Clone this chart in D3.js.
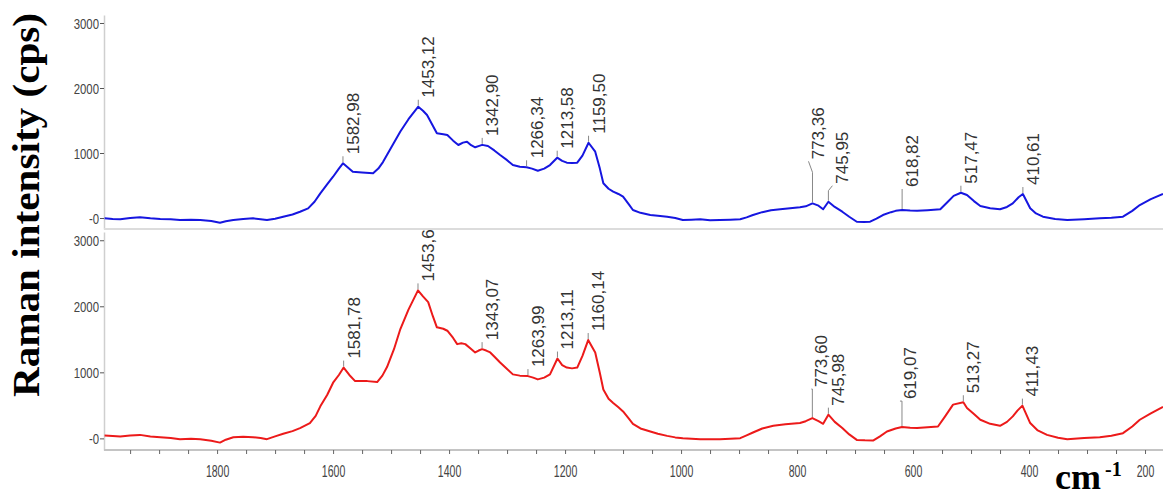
<!DOCTYPE html>
<html>
<head>
<meta charset="utf-8">
<script src="https://cdn.jsdelivr.net/npm/d3@7"></script>
<style>
  html, body { margin: 0; padding: 0; background: #ffffff; }
  svg { display: block; }
</style>
</head>
<body>
<svg id="chart" width="1163" height="497"></svg>
<script>
// Raman spectra of two samples: wavenumber (cm-1) against intensity (cps)
const blueWavenumbers = [
  1994, 1980, 1967, 1950, 1933, 1915, 1898, 1880, 1864, 1845, 1829, 1810, 1795, 1785, 1772, 1755,
  1738, 1725, 1714, 1700, 1686, 1670, 1657, 1643, 1632, 1622, 1610, 1600, 1590, 1582.98, 1575, 1566,
  1550, 1531, 1522, 1514, 1500, 1484, 1470, 1453.12, 1445, 1438, 1428, 1421, 1410, 1403, 1393, 1384,
  1376, 1369, 1362, 1355, 1348, 1342.90, 1333, 1322, 1312, 1300, 1290, 1278, 1266.34, 1257, 1247, 1236,
  1226, 1213.58, 1205, 1197, 1188, 1179, 1170, 1159.50, 1148, 1140, 1134, 1125, 1117, 1108, 1100, 1090,
  1083, 1070, 1053, 1040, 1024, 1010, 997, 982, 967, 950, 933, 915, 898, 887, 876, 860,
  845, 829, 812, 795, 785, 773.36, 763, 755, 745.95, 735, 722, 710, 697, 685, 674, 663,
  652, 638, 630, 618.82, 605, 593, 575, 553, 540, 530, 517.47, 507, 495, 484, 467, 450,
  438, 428, 418, 410.61, 398, 388, 376, 355, 334, 305, 278, 258, 238, 222, 209, 190, 169
];
const blueIntensity = [
  -5, -15, -20, 0, 11, -5, -15, -20, -31, -25, -31, -45, -72, -50, -31, -15,
  -5, -20, -31, -10, 20, 55, 97, 149, 250, 380, 520, 635, 760, 842, 780, 712,
  700, 688, 760, 860, 1080, 1330, 1520, 1712, 1650, 1585, 1420, 1303, 1290, 1277, 1190, 1123,
  1160, 1174, 1120, 1088, 1110, 1125, 1108, 1040, 969, 890, 815, 790, 780, 760, 728, 760,
  815, 928, 880, 851, 845, 851, 960, 1158, 1020, 760, 534, 450, 405, 370, 328, 210,
  123, 80, 46, 35, 20, 0, -31, -25, -20, -35, -31, -25, -20, 10, 46, 90,
  120, 134, 150, 165, 180, 226, 190, 134, 251, 170, 97, 20, -57, -60, -57, -10,
  46, 90, 110, 123, 115, 112, 120, 134, 250, 340, 389, 354, 260, 185, 150, 134,
  170, 226, 320, 369, 149, 70, 20, -15, -31, -20, -5, 5, 20, 110, 200, 290, 369
];

const redWavenumbers = [
  1994, 1980, 1967, 1950, 1933, 1915, 1898, 1880, 1864, 1845, 1829, 1810, 1795, 1785, 1772, 1755,
  1738, 1725, 1714, 1700, 1686, 1670, 1657, 1640, 1630, 1622, 1610, 1600, 1590, 1581.78, 1572, 1562,
  1550, 1541, 1524, 1515, 1507, 1495, 1484, 1470, 1453.6, 1445, 1436, 1428, 1421, 1410, 1403, 1393,
  1386, 1379, 1372, 1363, 1355, 1349, 1343.07, 1336, 1329, 1320, 1312, 1300, 1290, 1278, 1263.99, 1255,
  1247, 1236, 1226, 1213.11, 1205, 1197, 1188, 1179, 1170, 1160.14, 1148, 1140, 1134, 1125, 1117, 1108,
  1100, 1090, 1083, 1070, 1053, 1040, 1024, 1010, 997, 982, 967, 950, 933, 915, 898, 887,
  876, 860, 841, 820, 795, 785, 773.60, 763, 755, 745.98, 735, 722, 710, 697, 683, 669,
  657, 645, 630, 619.07, 605, 593, 575, 557, 545, 531, 513.27, 507, 495, 484, 467, 450,
  438, 428, 420, 411.43, 398, 385, 369, 350, 334, 305, 278, 258, 238, 222, 209, 190, 169
];
const redIntensity = [
  43, 35, 27, 45, 53, 30, 18, 5, -12, -5, -12, -35, -64, -20, 18, 25,
  18, 5, -12, 30, 69, 110, 156, 232, 340, 485, 660, 843, 960, 1072, 960, 867,
  870, 867, 852, 950, 1080, 1350, 1656, 1950, 2241, 2150, 2064, 1850, 1682, 1660, 1630, 1520,
  1427, 1440, 1427, 1360, 1301, 1330, 1351, 1330, 1301, 1220, 1148, 1050, 969, 950, 943, 920,
  893, 920, 969, 1209, 1110, 1072, 1060, 1072, 1250, 1489, 1301, 990, 740, 600, 537, 470,
  408, 300, 221, 150, 104, 70, 38, 15, 3, -5, -12, -15, -12, -5, 3, 45,
  89, 150, 191, 215, 232, 260, 308, 260, 221, 359, 250, 156, 60, -23, -30, -34,
  30, 104, 150, 171, 160, 156, 170, 180, 330, 511, 547, 461, 370, 282, 220, 191,
  250, 333, 420, 496, 232, 120, 53, 10, -12, 5, 18, 40, 79, 180, 282, 380, 476
];

// Annotated band positions for each spectrum
const bluePeakPositions = [1582.98, 1453.12, 1342.90, 1266.34, 1213.58, 1159.50, 773.36, 745.95, 618.82, 517.47, 410.61];
const bluePeakLabels = ["1582,98", "1453,12", "1342,90", "1266,34", "1213,58", "1159,50", "773,36", "745,95", "618,82", "517,47", "410,61"];
const redPeakPositions = [1581.78, 1453.6, 1343.07, 1263.99, 1213.11, 1160.14, 773.60, 745.98, 619.07, 513.27, 411.43];
const redPeakLabels = ["1581,78", "1453,6", "1343,07", "1263,99", "1213,11", "1160,14", "773,60", "745,98", "619,07", "513,27", "411,43"];

// Axis ticks
const xTickValues = [1800, 1600, 1400, 1200, 1000, 800, 600, 400, 200];
const xMinorTickValues = d3.range(1950, 150, -50);
const yTickValues = [0, 1000, 2000, 3000];
const yTickLabels = ["-0", "1000", "2000", "3000"];

// ---------------------------------------------------------------------------
const svg = d3.select("#chart");
const plotLeft = 104, plotRight = 1163;

const x = d3.scaleLinear().domain([1995, 169]).range([plotLeft, plotRight]);

const panels = [
  { wn: blueWavenumbers, val: blueIntensity, color: "#1616e0",
    peaks: bluePeakPositions, labels: bluePeakLabels,
    y: d3.scaleLinear().domain([-169, 3123]).range([229, 15]) },
  { wn: redWavenumbers, val: redIntensity, color: "#ec1a1a",
    peaks: redPeakPositions, labels: redPeakLabels,
    y: d3.scaleLinear().domain([-176, 3125]).range([450, 232]) }
];

// Leader-line placement for labels that sit above crowded bands
const labelLayout = {
  "773,36": { lift: 41, kink: 11, dx: -4 },
  "745,95": { lift: 15, kink: 5, dx: 4 },
  "618,82": { lift: 20, kink: 0, dx: 0 },
  "773,60": { lift: 28, kink: 0, dx: -1 },
  "745,98": { lift: 6, kink: 0, dx: 0 },
  "619,07": { lift: 25, kink: 0, dx: -2 }
};
const defaultLayout = { lift: 6, kink: 0, dx: 0 };

const tickFont = "'Liberation Sans', Arial, sans-serif";

panels.forEach((p, idx) => {
  const y = p.y;
  const yBottom = y.range()[0];

  // left axis, labels drawn in a horizontally squeezed face
  const ax = svg.append("g")
    .attr("transform", `translate(${plotLeft},0)`)
    .call(d3.axisLeft(y).tickValues(yTickValues)
      .tickFormat((d, i) => yTickLabels[i]).tickSize(4).tickSizeOuter(0).tickPadding(1));
  ax.select(".domain").attr("stroke", "#cfcfcf").attr("stroke-width", 1.5);
  ax.selectAll(".tick line").attr("stroke", "#555");
  ax.selectAll(".tick text")
    .attr("font-family", tickFont).attr("font-size", 15).attr("fill", "#444")
    .attr("x", -5 / 0.76)
    .attr("dy", "0.34em")
    .attr("transform", "scale(0.76,1)");

  // bottom baseline of the panel
  svg.append("line")
    .attr("x1", plotLeft).attr("x2", plotRight)
    .attr("y1", yBottom).attr("y2", yBottom)
    .attr("stroke", idx === 0 ? "#dcdcdc" : "#c4c4c4")
    .attr("stroke-width", 2);

  // spectrum
  const pts = p.wn.map((w, i) => [w, p.val[i]]);
  svg.append("path")
    .datum(pts)
    .attr("fill", "none")
    .attr("stroke", p.color)
    .attr("stroke-width", 2)
    .attr("stroke-linejoin", "round")
    .attr("d", d3.line().x(d => x(d[0])).y(d => y(d[1])));

  // band annotations
  const valueAt = w => {
    const i = p.wn.indexOf(w);
    if (i >= 0) return p.val[i];
    return p.val[d3.leastIndex(p.wn, v => Math.abs(v - w))];
  };
  p.peaks.forEach((w, i) => {
    const lab = p.labels[i];
    const lay = labelLayout[lab] || defaultLayout;
    const px = x(w), py = y(valueAt(w)) - 1;
    const ex = px + lay.dx, ey = py - lay.lift;
    svg.append("path")
      .attr("d", `M${px},${py}L${px},${ey + lay.kink}L${ex},${ey}`)
      .attr("fill", "none").attr("stroke", "#888").attr("stroke-width", 1);
    svg.append("text")
      .attr("transform", `translate(${ex + 16},${ey - 2}) rotate(-90)`)
      .attr("font-family", "'Liberation Sans', Arial, sans-serif")
      .attr("font-size", 17)
      .attr("fill", "#333")
      .text(lab);
  });
});

// bottom wavenumber axis
const xAxis = svg.append("g")
  .attr("transform", "translate(0,450)")
  .call(d3.axisBottom(x).tickValues(xMinorTickValues)
    .tickFormat(d => xTickValues.includes(d) ? String(d) : "")
    .tickSize(4).tickSizeOuter(0).tickPadding(11));
xAxis.select(".domain").remove();
xAxis.selectAll(".tick line").attr("stroke", "#666");
xAxis.selectAll(".tick text")
  .attr("font-family", tickFont).attr("font-size", 17).attr("fill", "#444")
  .attr("transform", "scale(0.62,1)");

// axis titles
svg.append("text")
  .attr("transform", "translate(39,205) rotate(-90)")
  .attr("text-anchor", "middle")
  .attr("font-family", "'Liberation Serif', 'Times New Roman', serif")
  .attr("font-weight", "bold")
  .attr("font-size", 37)
  .attr("fill", "#000")
  .attr("textLength", 384)
  .attr("lengthAdjust", "spacingAndGlyphs")
  .text("Raman intensity (cps)");

const unit = svg.append("text")
  .attr("x", 1055).attr("y", 489)
  .attr("font-family", "'Liberation Serif', 'Times New Roman', serif")
  .attr("font-weight", "bold")
  .attr("fill", "#000");
unit.append("tspan").attr("font-size", 36).text("cm");
unit.append("tspan").attr("font-size", 20).attr("dx", 4).attr("dy", -13).text("-1");
</script>
</body>
</html>
